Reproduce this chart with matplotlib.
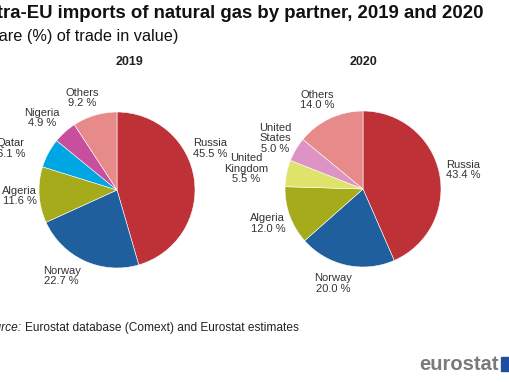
import matplotlib.pyplot as plt
from matplotlib.patches import Rectangle

plt.rcParams['font.family'] = ['Liberation Sans', 'DejaVu Sans']

labels_2019 = ['Russia', 'Norway', 'Algeria', 'Qatar', 'Nigeria', 'Others']
shares_2019 = [45.5, 22.7, 11.6, 6.1, 4.9, 9.2]
colors_2019 = ['#BE3237', '#1F5F9E', '#A5AB1B', '#00A6E3', '#C84F9E', '#E68A8A']

labels_2020 = ['Russia', 'Norway', 'Algeria', 'United\nKingdom', 'United\nStates', 'Others']
shares_2020 = [43.4, 20.0, 12.0, 5.5, 5.0, 14.0]
colors_2020 = ['#BE3237', '#1F5F9E', '#A5AB1B', '#E0E36A', '#DE93C5', '#E68A8A']

# label centres, in units of the pie radius
pos_2019 = [(1.19, 0.53), (-0.71, -1.10), (-1.25, -0.08), (-1.36, 0.53), (-0.96, 0.92), (-0.44, 1.18)]
pos_2020 = [(1.28, 0.24), (-0.38, -1.21), (-1.22, -0.44), (-1.50, 0.26), (-1.13, 0.65), (-0.59, 1.14)]

W, H = 510, 382
fig = plt.figure(figsize=(W / 100, H / 100), dpi=100)


def draw_pie(cx, cy, r, year, year_x, labels, shares, colors, pos):
    ax = fig.add_axes([(cx - 2 * r) / W, (H - cy - 2 * r) / H, 4 * r / W, 4 * r / H])
    ax.pie(shares, colors=colors, startangle=90, counterclock=False,
           wedgeprops=dict(edgecolor='white', linewidth=0.4))
    ax.set_xlim(-2, 2)
    ax.set_ylim(-2, 2)
    ax.set_aspect('equal')
    ax.axis('off')
    for lab, val, (x, y) in zip(labels, shares, pos):
        ax.text(x, y, f'{lab}\n{val:.1f} %', ha='center', va='center',
                fontsize=8, color='#333333', linespacing=1.05)
    fig.text(year_x / W, 1 - 62 / H, year, ha='center', va='center',
             fontsize=9, fontweight='bold', color='#222222')


draw_pie(117, 190, 78, '2019', 130, labels_2019, shares_2019, colors_2019, pos_2019)
draw_pie(363, 189, 78, '2020', 364, labels_2020, shares_2020, colors_2020, pos_2020)

fig.text(484 / W, 1 - 14 / H, 'Extra-EU imports of natural gas by partner, 2019 and 2020',
         ha='right', va='center', fontsize=13.4, fontweight='bold', color='#111111')
fig.text(178 / W, 1 - 36 / H, '(share (%) of trade in value)',
         ha='right', va='center', fontsize=11.7, color='#111111')
fig.text(22 / W, 1 - 328 / H, 'Source:', ha='right', va='center',
         fontsize=8.6, style='italic', color='#222222')
fig.text(25 / W, 1 - 328 / H, 'Eurostat database (Comext) and Eurostat estimates',
         ha='left', va='center', fontsize=8.6, color='#222222')

fig.text(499 / W, 1 - 364 / H, 'eurostat', ha='right', va='center',
         fontsize=14.5, fontweight='bold', color='#7A7A7A')
fig.patches.append(Rectangle((501 / W, 1 - 371 / H), 12 / W, 14 / H,
                             transform=fig.transFigure, color='#1F4E9E'))

fig.savefig('out.png', dpi=100)
